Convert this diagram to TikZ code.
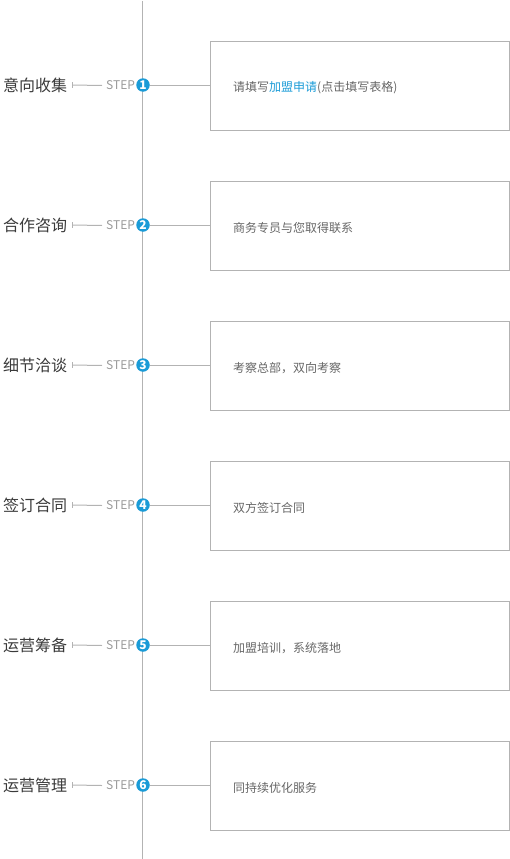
\documentclass[tikz,border=0pt]{standalone}
\usepackage{fontspec}
\setmainfont{Noto Sans CJK SC}
\newfontfamily\cjk{Noto Sans CJK SC}
\definecolor{stepblue}{HTML}{1A9BD7}
\definecolor{linegray}{HTML}{B3B3B3}
\definecolor{titlegray}{HTML}{3A3A3A}
\definecolor{textgray}{HTML}{666666}
\definecolor{stepgray}{HTML}{9A9A9A}
\tikzset{
  titletext/.style={anchor=west, inner sep=0pt, text=titlegray, font=\cjk\fontsize{16}{18}\selectfont},
  steptext/.style={anchor=west, inner sep=0pt, text=stepgray, font=\cjk\fontsize{12}{13}\selectfont},
  stepdot/.style={circle, fill=stepblue, minimum size=13.5pt, inner sep=0pt, text=white, font=\cjk\bfseries\fontsize{12}{12}\selectfont},
  infobox/.style={draw=linegray, line width=1pt, minimum width=299pt, minimum height=89pt, inner sep=0pt},
  boxtext/.style={anchor=west, inner sep=0pt, text=textgray, font=\cjk\fontsize{12}{14}\selectfont},
  conn/.style={draw=linegray, line width=1pt},
}
\begin{document}
\begin{tikzpicture}[x=1pt, y=-1pt]
\useasboundingbox (0,0) rectangle (510,859);
\coordinate (vtop) at (142.5,1);
\coordinate (vbot) at (142.5,859);
\draw[conn] (vtop) -- (vbot);
\foreach \i/\t/\d in {1/意向收集/{请填写\textcolor{stepblue}{加盟申请}(点击填写表格)},
                      2/合作咨询/{商务专员与您取得联系},
                      3/细节洽谈/{考察总部，双向考察},
                      4/签订合同/{双方签订合同},
                      5/运营筹备/{加盟培训，系统落地},
                      6/运营管理/{同持续优化服务}} {
  \pgfmathsetmacro{\yy}{85+140*(\i-1)}
  \node[titletext] (title\i) at (3,\yy) {\t};
  \coordinate (tick\i) at (72.5,\yy);
  \coordinate (ticka\i) at (72.5,\yy-3);
  \coordinate (tickb\i) at (72.5,\yy+3);
  \node[steptext] (step\i) at (106,\yy+0.5) {STEP};
  \node[infobox] (box\i) at (360,\yy+1) {};
  \node[stepdot] (dot\i) at (143,\yy) {\i};
  \node[boxtext] (desc\i) at (233,\yy+3) {\d};
  \draw[conn] (ticka\i) -- (tickb\i);
  \draw[conn] (tick\i) -- ([xshift=-4pt]step\i.west);
  \draw[conn] (dot\i.east) -- (dot\i.east -| box\i.west);
}
\end{tikzpicture}
\end{document}
